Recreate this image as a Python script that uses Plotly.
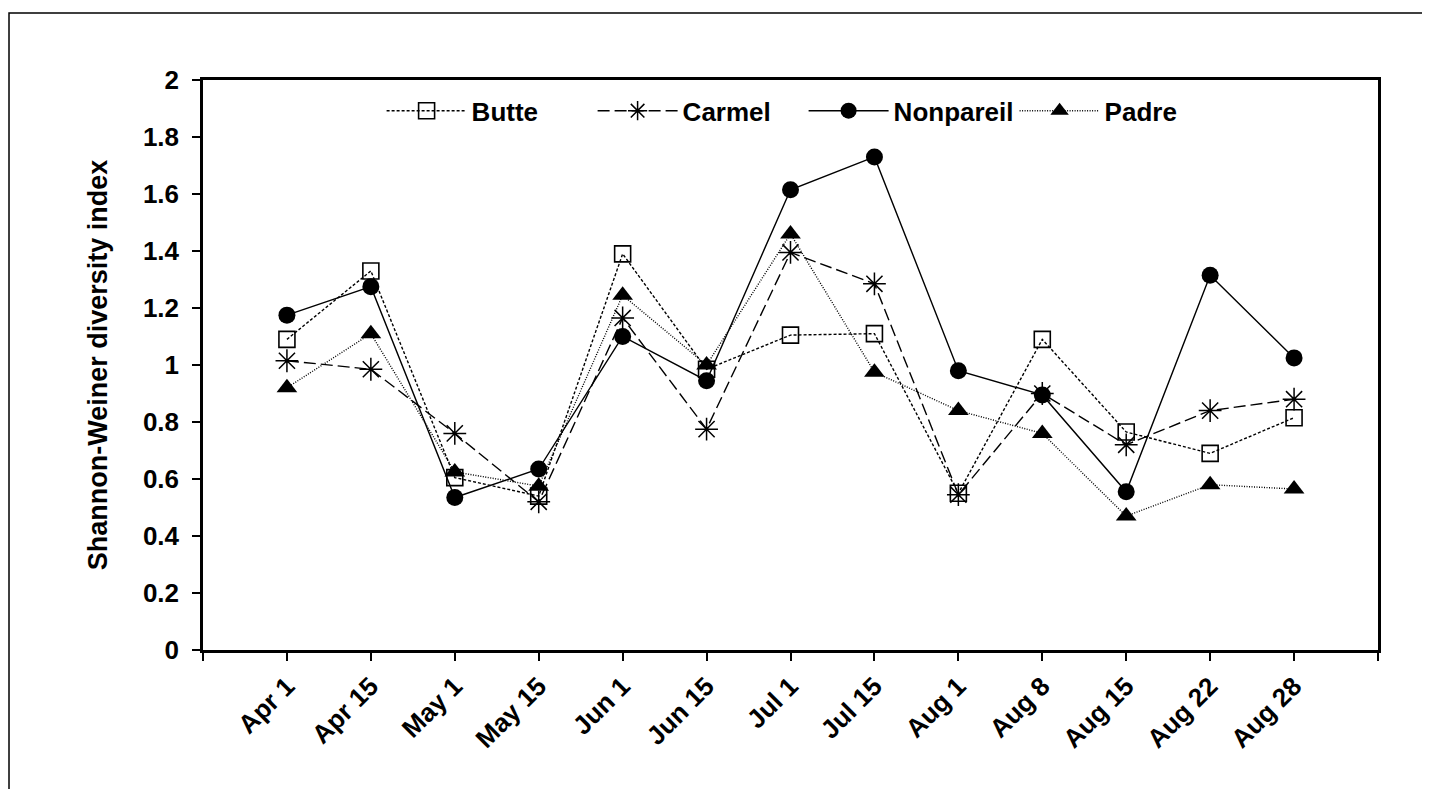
import plotly.graph_objects as go

dates = ["Apr 1", "Apr 15", "May 1", "May 15", "Jun 1", "Jun 15", "Jul 1",
         "Jul 15", "Aug 1", "Aug 8", "Aug 15", "Aug 22", "Aug 28"]
butte = [1.09, 1.33, 0.605, 0.54, 1.39, 0.985, 1.105, 1.11, 0.55, 1.09, 0.765, 0.69, 0.815]
carmel = [1.015, 0.985, 0.76, 0.52, 1.165, 0.775, 1.395, 1.285, 0.545, 0.9, 0.72, 0.84, 0.88]
nonpareil = [1.175, 1.275, 0.535, 0.635, 1.1, 0.945, 1.615, 1.73, 0.98, 0.895, 0.555, 1.315, 1.025]
padre = [0.92, 1.11, 0.625, 0.575, 1.245, 1.0, 1.46, 0.975, 0.84, 0.76, 0.47, 0.58, 0.565]
y_ticks = [0, 0.2, 0.4, 0.6, 0.8, 1, 1.2, 1.4, 1.6, 1.8, 2]
y_ticktext = ["0", "0.2", "0.4", "0.6", "0.8", "1", "1.2", "1.4", "1.6", "1.8", "2"]

xpos = list(range(1, len(dates) + 1))
FONT = "Liberation Sans, Arial, sans-serif"

fig = go.Figure()
series = [
    ("Butte", butte, dict(symbol="square-open", size=16, color="black", line=dict(width=1.6, color="black")), "3px,2px"),
    ("Carmel", carmel, dict(symbol="asterisk-open", size=19, color="black", line=dict(width=1.5, color="black")), "12px,5px"),
    ("Nonpareil", nonpareil, dict(symbol="circle", size=17, color="black"), "solid"),
    ("Padre", padre, dict(symbol="triangle-up", size=18, color="black"), "1px,1.5px"),
]
for name, vals, mk, dash in series:
    fig.add_trace(go.Scatter(
        x=xpos, y=vals, name=name, mode="lines+markers",
        line=dict(color="black", width=1.4, dash=dash),
        marker=mk,
    ))

fig.update_layout(
    width=1422, height=781,
    margin=dict(l=195, r=52, t=72, b=139),
    paper_bgcolor="white", plot_bgcolor="white",
    font=dict(family=FONT, color="black", size=26),
    showlegend=True,
    legend=dict(
        orientation="h", x=0.152, y=0.946, xanchor="left", yanchor="middle",
        font=dict(family=FONT, size=26, color="black", weight="bold"),
        itemwidth=80, entrywidth=116, entrywidthmode="pixels",
        bgcolor="rgba(0,0,0,0)", traceorder="normal",
    ),
    xaxis=dict(
        range=[0, 14], tickmode="array",
        tickvals=list(range(0, 15)),
        ticktext=[""] + dates + [""],
        tickangle=-45, ticks="outside", ticklen=8, tickwidth=2, tickcolor="black",
        showline=True, linecolor="black", linewidth=2.5, mirror=True,
        showgrid=False, zeroline=False, ticklabelstandoff=0,
        tickfont=dict(family=FONT, size=26, color="black", weight="bold"),
    ),
    yaxis=dict(
        range=[0, 2], tickmode="array", tickvals=y_ticks, ticktext=y_ticktext,
        ticks="outside", ticklen=8, tickwidth=2, tickcolor="black",
        showline=True, linecolor="black", linewidth=2.5, mirror=True,
        showgrid=False, zeroline=False, ticklabelstandoff=8,
        tickfont=dict(family=FONT, size=26, color="black", weight="bold"),
        title=dict(text="Shannon-Weiner diversity index", standoff=28,
                   font=dict(family=FONT, size=27, color="black", weight="bold")),
    ),
    shapes=[dict(type="rect", xref="paper", yref="paper",
                 x0=-0.1651, x1=1.0391, y0=-0.27, y1=1.1175,
                 line=dict(color="black", width=1.5), layer="below")],
)

fig.write_html("out.html")
